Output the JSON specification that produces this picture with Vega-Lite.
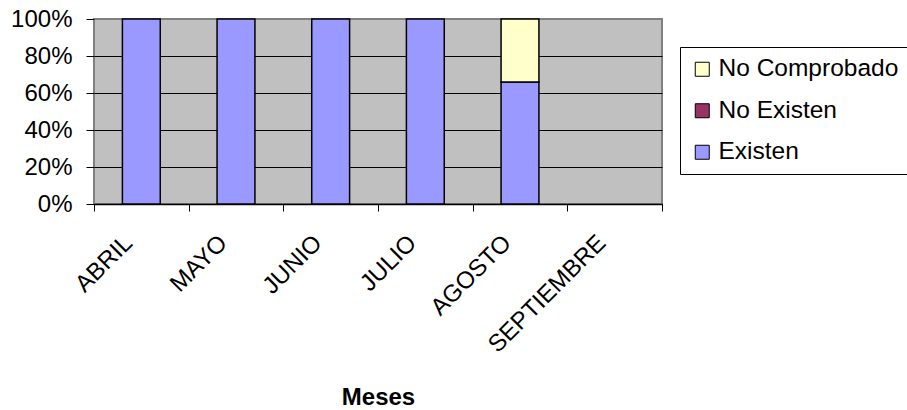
{
  "$schema": "https://vega.github.io/schema/vega-lite/v6.json",
  "width": 568,
  "height": 185,
  "autosize": {"type": "none"},
  "padding": {"left": 94, "top": 19, "right": 245, "bottom": 206},
  "background": "white",
  "config": {
    "font": "Liberation Sans",
    "view": {"fill": "#C0C0C0", "stroke": "#808080", "strokeWidth": 2}
  },
  "data": {
    "values": [
      {"mes": "ABRIL", "serie": "Existen", "valor": 100},
      {"mes": "MAYO", "serie": "Existen", "valor": 100},
      {"mes": "JUNIO", "serie": "Existen", "valor": 100},
      {"mes": "JULIO", "serie": "Existen", "valor": 100},
      {"mes": "AGOSTO", "serie": "Existen", "valor": 66},
      {"mes": "AGOSTO", "serie": "No Comprobado", "valor": 34}
    ]
  },
  "mark": {"type": "bar", "width": {"band": 0.4}, "stroke": "black", "strokeWidth": 1.5},
  "encoding": {
    "x": {
      "field": "mes",
      "type": "nominal",
      "scale": {"domain": ["ABRIL", "MAYO", "JUNIO", "JULIO", "AGOSTO", "SEPTIEMBRE"], "padding": 0},
      "axis": {
        "title": "Meses",
        "titleFontSize": 24,
        "titleFontWeight": "bold",
        "titleColor": "black",
        "titleY": 200,
        "titleBaseline": "alphabetic",
        "labelAngle": -45,
        "labelAlign": "right",
        "labelBaseline": "middle",
        "labelFontSize": 24,
        "labelColor": "black",
        "labelPadding": 28,
        "labelOffset": -13,
        "labelLimit": 400,
        "tickBand": "extent",
        "tickSize": 7,
        "tickColor": "black",
        "domainColor": "black",
        "domainWidth": 1.5,
        "grid": false
      }
    },
    "y": {
      "field": "valor",
      "type": "quantitative",
      "stack": "normalize",
      "scale": {"domain": [0, 1]},
      "axis": {
        "title": null,
        "format": ".0%",
        "values": [0, 0.2, 0.4, 0.6, 0.8, 1],
        "grid": true,
        "gridColor": {"condition": {"test": "datum.value === 1", "value": "#808080"}, "value": "black"},
        "gridWidth": 1,
        "domain": false,
        "tickColor": "black",
        "tickSize": 8,
        "labelFontSize": 24,
        "labelColor": "black",
        "labelPadding": 14
      }
    },
    "color": {
      "field": "serie",
      "type": "nominal",
      "scale": {
        "domain": ["No Comprobado", "No Existen", "Existen"],
        "range": ["#FFFFCC", "#993366", "#9999FF"]
      },
      "legend": {
        "title": null,
        "orient": "none",
        "legendX": 586,
        "legendY": 28,
        "strokeColor": "black",
        "fillColor": "white",
        "padding": 10,
        "cornerRadius": 0,
        "symbolType": "square",
        "symbolSize": 196,
        "symbolStrokeColor": "black",
        "symbolStrokeWidth": 1,
        "symbolOpacity": 1,
        "labelFontSize": 24.5,
        "labelColor": "black",
        "labelOffset": 4,
        "labelLimit": 400,
        "rowPadding": 16.5
      }
    },
    "order": {"field": "serie", "sort": "ascending"}
  }
}
